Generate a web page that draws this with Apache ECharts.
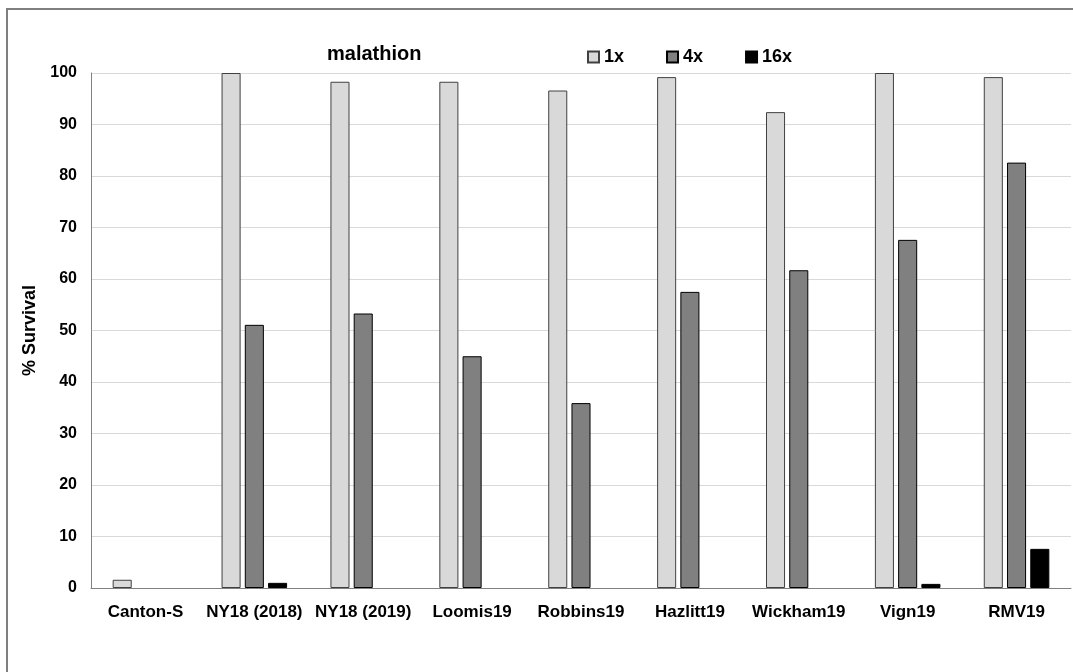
<!DOCTYPE html>
<html>
<head>
<meta charset="utf-8">
<script src="https://cdn.jsdelivr.net/npm/echarts@6/dist/echarts.min.js"></script>
<style>
html, body { margin: 0; padding: 0; background: #fff; }
#main { width: 1073px; height: 672px; }
</style>
</head>
<body>
<div id="main"></div>
<script>
var strains = ['Canton-S', 'NY18 (2018)', 'NY18 (2019)', 'Loomis19', 'Robbins19', 'Hazlitt19', 'Wickham19', 'Vign19', 'RMV19'];
var dose1x = [1.6, 100, 98.3, 98.3, 96.6, 99.2, 92.4, 100, 99.2];
var dose4x = [0, 51.1, 53.3, 45.0, 35.9, 57.5, 61.7, 67.6, 82.6];
var dose16x = [0, 1.0, 0, 0, 0, 0, 0, 0.8, 7.6];

var font = '"Liberation Sans", Arial, sans-serif';

// zero bars: no outline, so nothing shows on the axis
function bars(arr) {
	return arr.map(function (v) {
		return v === 0 ? { value: 0, itemStyle: { borderWidth: 0 } } : v;
	});
}

var myChart = echarts.init(document.getElementById('main'));
var option = {
	animation: false,
	backgroundColor: '#fff',
	graphic: [{
		type: 'rect',
		shape: { x: 7, y: 9, width: 1200, height: 800 },
		style: { fill: 'none', stroke: '#7f7f7f', lineWidth: 2 },
		silent: true
	}],
	title: {
		text: 'malathion',
		left: 322,
		top: 39,
		textStyle: { fontFamily: font, fontSize: 20, fontWeight: 'bold', color: '#000' }
	},
	legend: {
		left: 582,
		top: 43,
		icon: 'rect',
		itemWidth: 11,
		itemHeight: 11,
		itemGap: 42,
		textStyle: { fontFamily: font, fontSize: 18, fontWeight: 'bold', color: '#000' },
		data: ['1x', '4x', '16x']
	},
	grid: { left: 91, right: 2, top: 73, bottom: 84 },
	xAxis: {
		type: 'category',
		data: strains,
		axisLine: { lineStyle: { color: '#808080', width: 1 } },
		axisTick: { show: false },
		axisLabel: { fontFamily: font, fontSize: 17, fontWeight: 'bold', color: '#000', margin: 16, interval: 0 }
	},
	yAxis: {
		type: 'value',
		min: 0,
		max: 100,
		interval: 10,
		name: '% Survival',
		nameLocation: 'middle',
		nameGap: 47,
		nameTextStyle: { fontFamily: font, fontSize: 18, fontWeight: 'bold', color: '#000' },
		axisLine: { show: true, lineStyle: { color: '#808080', width: 1 } },
		axisTick: { show: false },
		axisLabel: { fontFamily: font, fontSize: 16, fontWeight: 'bold', color: '#000', margin: 14 },
		splitLine: { lineStyle: { color: '#d9d9d9', width: 1 } }
	},
	series: [{
		name: '1x',
		type: 'bar',
		data: bars(dose1x),
		barWidth: '17.5%',
		barGap: '22%',
		itemStyle: { color: '#d9d9d9', borderColor: '#404040', borderWidth: 1 }
	}, {
		name: '4x',
		type: 'bar',
		data: bars(dose4x),
		barWidth: '17.5%',
		barGap: '22%',
		itemStyle: { color: '#808080', borderColor: '#000', borderWidth: 1 }
	}, {
		name: '16x',
		type: 'bar',
		data: bars(dose16x),
		barWidth: '17.5%',
		barGap: '22%',
		itemStyle: { color: '#000', borderColor: '#000', borderWidth: 1 }
	}]
};
myChart.setOption(option);
</script>
</body>
</html>
